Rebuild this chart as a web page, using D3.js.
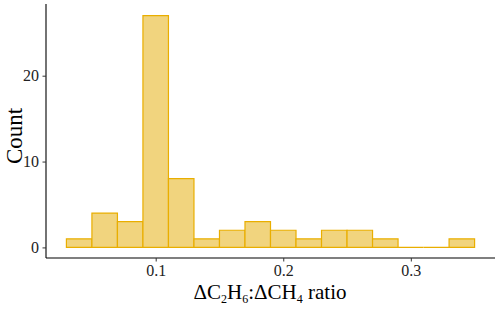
<!DOCTYPE html>
<html><head><meta charset="utf-8">
<script src="https://cdn.jsdelivr.net/npm/d3@7"></script>
<style>body{margin:0;background:#fff}svg{display:block}</style>
</head><body>
<svg id="c" width="500" height="310"></svg>
<script>
const binStarts = [0.03,0.05,0.07,0.09,0.11,0.13,0.15,0.17,0.19,0.21,0.23,0.25,0.27,0.29,0.31,0.33];
const counts    = [1,4,3,27,8,1,2,3,2,1,2,2,1,0,0,1];
const binWidth = 0.02;
const xTicks = [0.1,0.2,0.3];
const yTicks = [0,10,20];

const svg = d3.select("#c");
const pL = 46, pR = 495, pT = 4, pB = 258;
const xMin = 0.03 - 0.016, xMax = 0.35 + 0.016;
const x = d3.scaleLinear().domain([xMin, xMax]).range([pL, pR]);
const y = d3.scaleLinear().domain([-1.35, 28.35]).range([pB + 1, pT]);

const data = binStarts.map((b,i)=>({x0:b, x1:b+binWidth, n:counts[i]}));

svg.append("g").selectAll("path").data(data).join("path")
  .attr("d", d=>`M${x(d.x0)},${y(0)}V${y(d.n)}H${x(d.x1)}V${y(0)}Z`)
  .attr("fill", "#F1D47E").attr("stroke", "#E9AE00").attr("stroke-width", 1.2);

const font = "'Liberation Serif','Times New Roman',serif";
const xa = svg.append("g").attr("transform", `translate(0,${pB})`)
  .call(d3.axisBottom(x).tickValues(xTicks).tickFormat(d3.format(".1f")).tickSize(3.5).tickPadding(3));
const ya = svg.append("g").attr("transform", `translate(${pL},0)`)
  .call(d3.axisLeft(y).tickValues(yTicks).tickSize(3.5).tickPadding(3.5));
[xa, ya].forEach(a=>{
  a.select(".domain").attr("stroke","#000").attr("stroke-width",1.1)
   .attr("d", a===xa ? `M${pL},0H${pR}` : `M0,${pT}V${pB}`);
  a.selectAll(".tick line").attr("stroke","#333").attr("stroke-width",1);
  a.selectAll(".tick text").attr("fill","#222").style("font-family",font).style("font-size","16px");
});

svg.append("text").attr("transform","translate(21.5,136) rotate(-90)")
  .attr("text-anchor","middle").style("font-family",font).style("font-size","23px").attr("fill","#000")
  .text("Count");

const t = svg.append("text").attr("x", 270).attr("y", 299).attr("text-anchor","middle")
  .style("font-family",font).style("font-size","21px").attr("fill","#000");
t.append("tspan").text("ΔC");
t.append("tspan").attr("dy",4).style("font-size","12px").text("2");
t.append("tspan").attr("dy",-4).text("H");
t.append("tspan").attr("dy",4).style("font-size","12px").text("6");
t.append("tspan").attr("dy",-4).text(":ΔCH");
t.append("tspan").attr("dy",4).style("font-size","12px").text("4");
t.append("tspan").attr("dy",-4).text(" ratio");
</script>
</body></html>
